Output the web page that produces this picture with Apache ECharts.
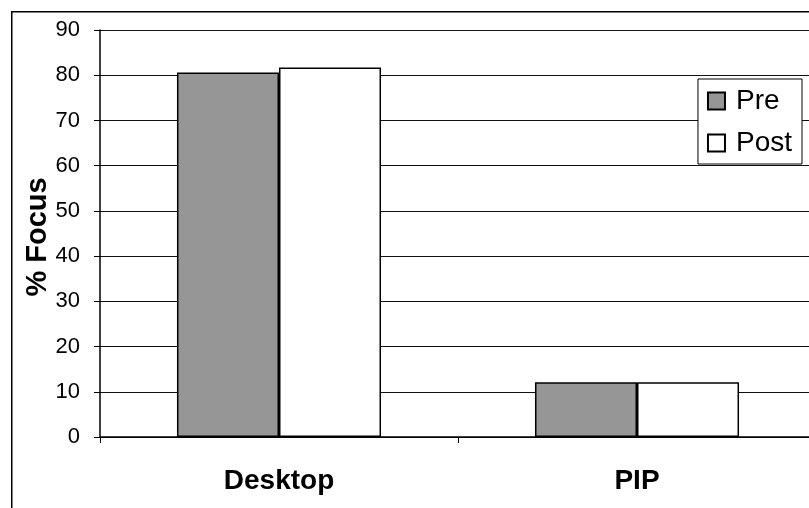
<!DOCTYPE html>
<html>
<head>
<meta charset="utf-8">
<script src="https://cdn.jsdelivr.net/npm/echarts@6/dist/echarts.min.js"></script>
<style>html,body{margin:0;padding:0;background:#fff}#c{width:809px;height:508px}</style>
</head>
<body>
<div id="c"></div>
<script>
const categories = ['Desktop', 'PIP'];
const preValues = [80.6, 12.1];
const postValues = [81.7, 12.1];
const yTicks = [0, 10, 20, 30, 40, 50, 60, 70, 80, 90];

const chart = echarts.init(document.getElementById('c'));
const font = 'Liberation Sans, Arial, sans-serif';
chart.setOption({
  animation: false,
  backgroundColor: '#fff',
  graphic: [{
    type: 'rect', left: 11, top: 11, z: -10,
    shape: { width: 1000, height: 700 },
    style: { fill: '#fff', stroke: '#000', lineWidth: 1.5 }
  }],
  grid: { left: 100, top: 30, width: 716, bottom: 71, containLabel: false, outerBoundsMode: 'none' },
  legend: {
    right: 7, top: 79, orient: 'vertical',
    itemWidth: 17, itemHeight: 17, itemGap: 14,
    padding: [8, 10, 7, 9],
    borderColor: '#000', borderWidth: 1, backgroundColor: '#fff',
    icon: 'rect',
    textStyle: { fontFamily: font, fontSize: 28, color: '#000', padding: [0, 0, 0, 6] },
    data: ['Pre', 'Post']
  },
  xAxis: {
    type: 'category', data: categories,
    axisLine: { lineStyle: { color: '#000', width: 1.5 } },
    axisTick: { show: true, length: 6, lineStyle: { color: '#000' } },
    axisLabel: { fontFamily: font, fontSize: 28, fontWeight: 'bold', color: '#000', margin: 30 }
  },
  yAxis: {
    type: 'value', min: 0, max: 90, interval: 10,
    name: '% Focus', nameLocation: 'middle', nameGap: 48, nameMoveOverlap: false,
    nameTextStyle: { fontFamily: font, fontSize: 29, fontWeight: 'bold', color: '#000', padding: [0, 7, 0, 0] },
    axisLine: { show: true, lineStyle: { color: '#000', width: 1.5 } },
    axisTick: { show: true, length: 6, lineStyle: { color: '#000' } },
    axisLabel: { fontFamily: font, fontSize: 22, color: '#000', margin: 20,
      formatter: v => yTicks.includes(v) ? String(v) : '' },
    splitLine: { lineStyle: { color: '#111', width: 1 } }
  },
  series: [
    { name: 'Pre', type: 'bar', data: preValues, barGap: '0%', barCategoryGap: '43%',
      itemStyle: { color: '#969696', borderColor: '#000', borderWidth: 1.5 } },
    { name: 'Post', type: 'bar', data: postValues,
      itemStyle: { color: '#fff', borderColor: '#000', borderWidth: 1.5 } }
  ]
});
</script>
</body>
</html>
